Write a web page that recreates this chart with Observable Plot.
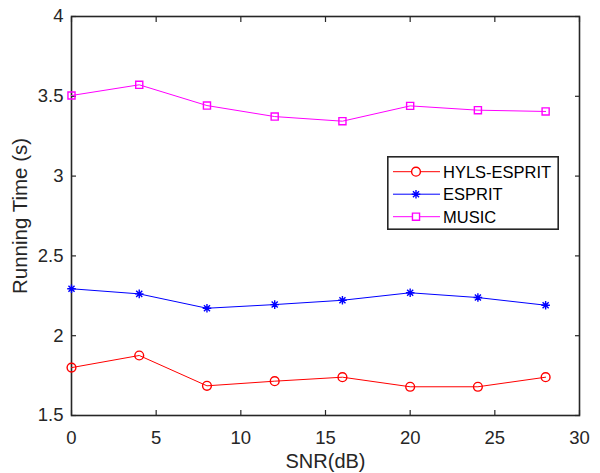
<!DOCTYPE html>
<html>
<head>
<meta charset="utf-8">
<script src="https://cdn.jsdelivr.net/npm/d3@7"></script>
<script src="https://cdn.jsdelivr.net/npm/@observablehq/plot@0.6"></script>
<style>
  html, body { margin: 0; padding: 0; background: #fff; }
  #wrap { position: relative; width: 600px; height: 473px; font-family: "Liberation Sans", Arial, Helvetica, sans-serif; }
  #legend { position: absolute; left: 387px; top: 156px; }
</style>
</head>
<body>
<div id="wrap"><div id="chart"></div><div id="legend"></div></div>
<script>
// ---- data ----
const snr = [0, 4, 8, 12, 16, 20, 24, 28];
const hylsEsprit = [1.800, 1.876, 1.686, 1.715, 1.740, 1.680, 1.680, 1.740];
const esprit = [2.294, 2.262, 2.172, 2.195, 2.222, 2.269, 2.239, 2.191];
const music = [3.505, 3.572, 3.442, 3.373, 3.344, 3.440, 3.413, 3.405];
const seriesNames = ["HYLS-ESPRIT", "ESPRIT", "MUSIC"];
const seriesColors = ["#ff0000", "#0000ff", "#ff00ff"];
const xTicks = [0, 5, 10, 15, 20, 25, 30];
const yTicks = [1.5, 2, 2.5, 3, 3.5, 4];
const xLabel = "SNR(dB)";
const yLabel = "Running Time (s)";

// MATLAB-style asterisk (8 arms)
const matlabAsterisk = {
  draw(ctx, size) {
    const r = Math.sqrt(size / Math.PI);
    const d = r * Math.SQRT1_2;
    ctx.moveTo(0, -r); ctx.lineTo(0, r);
    ctx.moveTo(-r, 0); ctx.lineTo(r, 0);
    ctx.moveTo(-d, -d); ctx.lineTo(d, d);
    ctx.moveTo(-d, d); ctx.lineTo(d, -d);
  }
};
const symbols = ["circle", matlabAsterisk, "square"];
const radii = [4.4, 4.3, 4.0];

const allValues = [hylsEsprit, esprit, music];
const rows = allValues.flatMap((vals, i) =>
  vals.map((v, j) => ({ snr: snr[j], t: v, s: seriesNames[i], idx: i })));

const axisColor = "#262626";
const fmt = d => String(d);

const marks = [
  Plot.frame({ stroke: axisColor, strokeWidth: 1.6 }),
  // tick labels
  Plot.axisX({ ticks: xTicks, tickSize: 0, tickPadding: 15, tickFormat: fmt, label: null, fontSize: 18.5, fill: axisColor, ariaLabel: "xticklabels" }),
  Plot.axisY({ ticks: yTicks, tickSize: 0, tickPadding: 8, tickFormat: fmt, label: null, fontSize: 18.5, fill: axisColor, ariaLabel: "yticklabels" }),
  // inward ticks on all sides
  Plot.axisX({ ticks: xTicks, anchor: "bottom", tickSize: -5, tickFormat: () => "", label: null, stroke: axisColor, strokeWidth: 1.2 }),
  Plot.axisX({ ticks: xTicks, anchor: "top", tickSize: -5, tickFormat: () => "", label: null, stroke: axisColor, strokeWidth: 1.2 }),
  Plot.axisY({ ticks: yTicks, anchor: "left", tickSize: -5, tickFormat: () => "", label: null, stroke: axisColor, strokeWidth: 1.2 }),
  Plot.axisY({ ticks: yTicks, anchor: "right", tickSize: -5, tickFormat: () => "", label: null, stroke: axisColor, strokeWidth: 1.2 }),
  // axis titles
  Plot.text([xLabel], { text: d => d, frameAnchor: "bottom", lineAnchor: "middle", textAnchor: "middle", dy: 46, fontSize: 20, fill: axisColor }),
  Plot.text([yLabel], { text: d => d, frameAnchor: "left", lineAnchor: "middle", textAnchor: "middle", dx: -51.5, rotate: -90, fontSize: 20.5, fill: axisColor })
];

seriesNames.forEach((name, i) => {
  const data = rows.filter(d => d.idx === i);
  marks.push(Plot.line(data, { x: "snr", y: "t", stroke: seriesColors[i], strokeWidth: 1 }));
  marks.push(Plot.dot(data, { x: "snr", y: "t", stroke: seriesColors[i], fill: "none", strokeWidth: 1.4, symbol: () => symbols[i], r: radii[i] }));
});

const chart = Plot.plot({
  width: 600,
  height: 473,
  marginLeft: 71,
  marginRight: 21,
  marginTop: 16,
  marginBottom: 58,
  style: { background: "#fff", fontFamily: "'Liberation Sans', Arial, Helvetica, sans-serif", fontSize: "18.5px", color: axisColor },
  x: { domain: [0, 30] },
  y: { domain: [1.5, 4] },
  marks
});
// make sure tick labels use the intended size
d3.select(chart).selectAll("g[aria-label='xticklabels'] text, g[aria-label='yticklabels'] text")
  .style("font-size", "18.5px");
document.getElementById("chart").appendChild(chart);

// ---- legend (overlay) ----
const lw = 172, lh = 74;
const lsvg = d3.select("#legend").append("svg").attr("width", lw).attr("height", lh);
lsvg.append("rect").attr("x", 0.8).attr("y", 0.8).attr("width", lw - 1.6).attr("height", lh - 1.6)
  .attr("fill", "#fff").attr("stroke", axisColor).attr("stroke-width", 1.6);
seriesNames.forEach((name, i) => {
  const cy = 15.7 + i * 22.5;
  const g = lsvg.append("g");
  g.append("line").attr("x1", 6).attr("x2", 53).attr("y1", cy).attr("y2", cy)
    .attr("stroke", seriesColors[i]).attr("stroke-width", 1);
  const sym = typeof symbols[i] === "string"
    ? (symbols[i] === "circle" ? d3.symbolCircle : d3.symbolSquare) : symbols[i];
  g.append("path").attr("d", d3.symbol(sym, Math.PI * radii[i] * radii[i])())
    .attr("transform", `translate(29,${cy})`).attr("fill", "#fff")
    .attr("stroke", seriesColors[i]).attr("stroke-width", 1.4);
  g.append("text").attr("x", 56).attr("y", cy).attr("dy", "0.36em")
    .attr("font-size", 16.5).attr("fill", "#000")
    .attr("font-family", "'Liberation Sans', Arial, Helvetica, sans-serif").text(name);
});
</script>
</body>
</html>
